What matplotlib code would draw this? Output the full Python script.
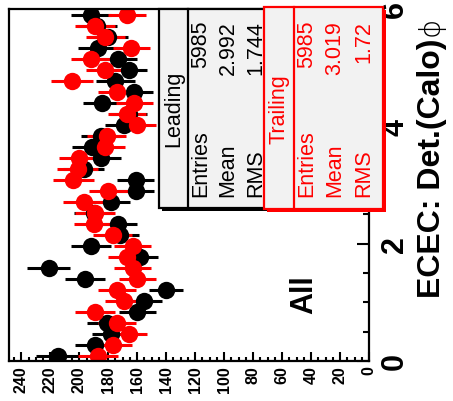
import numpy as np
import matplotlib
matplotlib.use("Agg")
import matplotlib.pyplot as plt
from matplotlib.patches import Rectangle

phi_lo, phi_hi, n_bins = 0.0, 6.0, 32
leading = [215, 189, 178, 181, 160, 155, 140, 196, 221, 158, 192, 172, 173, 190, 178, 161,
           161, 197, 185, 191, 185, 169, 166, 184, 162, 175, 166, 173, 187, 180, 188, 192]
trailing = [187, 177, 166, 174, 189, 169, 174, 160, 163, 167, 163, 177, 190, 189, 197, 180,
            204, 201, 200, 182, 181, 160, 167, 162, 174, 205, 182, 192, 164, 182, 189, 167]
stat_labels = ["Entries", "Mean", "RMS"]
leading_stats = ["5985", "2.992", "1.744"]
trailing_stats = ["5985", "3.019", "1.72"]
count_ticks = list(range(0, 241, 20))
phi_ticks = [0, 2, 4, 6]

W, H = 453, 402
FONT = "Liberation Sans"
plt.rcParams["font.family"] = [FONT, "DejaVu Sans"]


def fx(x):
    return x / W


def fy(y):
    return 1 - y / H


fig = plt.figure(figsize=(W / 100, H / 100), dpi=100)
ax = fig.add_axes([fx(9), fy(362), fx(369) - fx(9), fy(10) - fy(362)])

edges = np.linspace(phi_lo, phi_hi, n_bins + 1)
centers = 0.5 * (edges[:-1] + edges[1:])
for vals, col in [(leading, "black"), (trailing, "red")]:
    v = np.array(vals, dtype=float)
    ax.errorbar(v, centers, xerr=np.sqrt(v), fmt="o", color=col, ms=12.5,
                elinewidth=2.2, capsize=0, mew=0)

ax.set_xlim(248.5, 0)
ax.set_ylim(phi_lo, phi_hi)
for s in ax.spines.values():
    s.set_linewidth(1.6)

ax.set_xticks(count_ticks)
ax.set_xticks(np.arange(0, 246, 5), minor=True)
ax.set_xticklabels([str(t) for t in count_ticks], rotation=90, fontweight="bold",
                   fontsize=11.5)
ax.tick_params(axis="x", which="major", direction="in", length=6.5, width=1.5, pad=3)
ax.tick_params(axis="x", which="minor", direction="in", length=3.2, width=1.5)

ax.yaxis.tick_right()
ax.set_yticks(phi_ticks)
ax.set_yticks(np.arange(0, 6.01, 0.5), minor=True)
ax.set_yticklabels([str(t) for t in phi_ticks], rotation=90, fontweight="bold",
                   fontsize=22, va="center")
ax.tick_params(axis="y", which="major", direction="in", length=8.5, width=1.5, pad=8)
ax.tick_params(axis="y", which="minor", direction="in", length=4.5, width=1.5)

# axis title (rotated picture: reads bottom to top on the right)
fig.text(fx(432), fy(38), "ECEC: Det.(Calo)", rotation=90, ha="center",
         va="top", fontsize=23, fontweight="bold")
fig.text(fx(431), fy(17), "\u03d5", rotation=90, ha="center", va="top",
         fontsize=21, family="DejaVu Sans", fontweight="light")

fig.text(fx(304), fy(295), "All", rotation=90, ha="center", va="center",
         fontsize=22, fontweight="bold")


def stat_box(x0, x1, sep, y0, y1, col, title, vals, rows_x):
    sh = 2.5
    fig.patches.append(Rectangle((fx(x0 + sh), fy(y1 + sh)), fx(x1) - fx(x0),
                                 fy(y0) - fy(y1), transform=fig.transFigure,
                                 facecolor=col, edgecolor="none", zorder=5))
    fig.patches.append(Rectangle((fx(x0), fy(y1)), fx(x1) - fx(x0), fy(y0) - fy(y1),
                                 transform=fig.transFigure, facecolor="#f2f2f2",
                                 edgecolor=col, lw=1.6, zorder=6))
    fig.lines.append(plt.Line2D([fx(sep), fx(sep)], [fy(y0), fy(y1)],
                                transform=fig.transFigure, color=col, lw=1.6, zorder=7))
    fig.text(fx((x0 + sep) / 2), fy(109), title, rotation=90, ha="center", va="center",
             fontsize=15.5, color=col, zorder=8)
    for xr, lab, v in zip(rows_x, stat_labels, vals):
        fig.text(fx(xr), fy(197), lab, rotation=90, ha="center", va="bottom",
                 fontsize=15.5, color=col, zorder=8)
        fig.text(fx(xr), fy(21), v, rotation=90, ha="center", va="top",
                 fontsize=15.5, color=col, zorder=8)


stat_box(159, 280, 188, 10, 209, "black", "Leading", leading_stats, [201, 228, 256])
stat_box(264, 383, 294, 8, 210, "red", "Trailing", trailing_stats, [307, 335, 364])

fig.savefig("out.png", dpi=100)
